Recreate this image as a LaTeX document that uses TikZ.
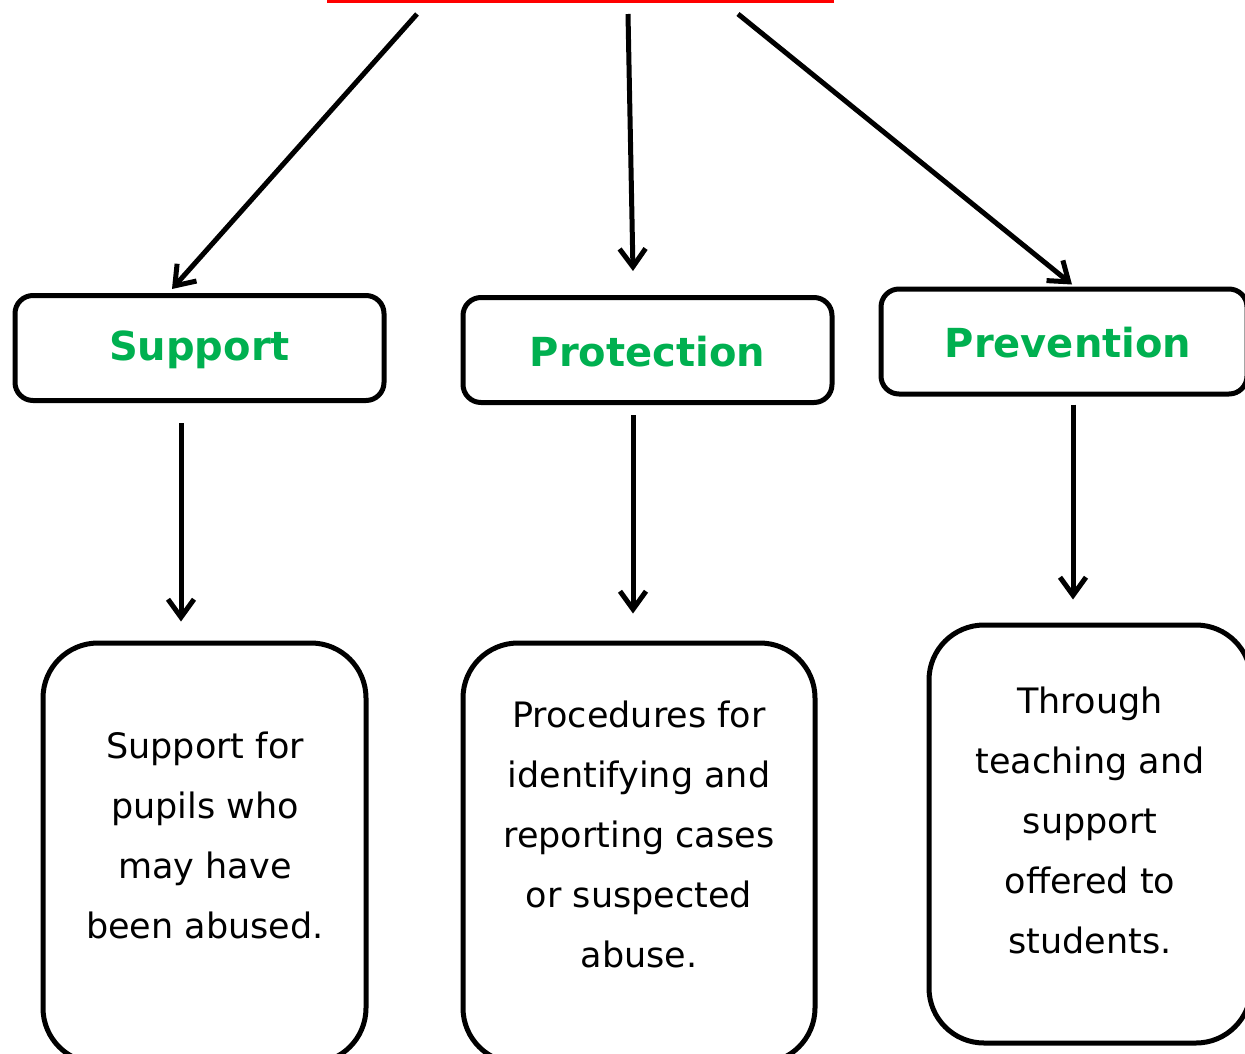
\documentclass[tikz,border=0pt]{standalone}
\usepackage{fontspec}
\setmainfont{DejaVu Sans}
\usetikzlibrary{arrows.meta,calc}
\definecolor{headgreen}{RGB}{0,176,80}
\begin{document}
\begin{tikzpicture}[x=1pt,y=-1pt,
  headbox/.style={draw=black,line width=5pt,rounded corners=18pt,minimum width=369pt,minimum height=105pt,inner sep=0pt},
  headtext/.style={text=headgreen,font=\fontsize{40}{48}\selectfont\bfseries},
  bodybox/.style={draw=black,line width=5pt,rounded corners=55pt,inner sep=0pt},
  bodytext/.style={align=center,font=\fontsize{35}{60}\selectfont,inner sep=0pt},
  arr/.style={draw=black,line width=5pt,-{Straight Barb[length=18pt,width=26pt,line width=5pt]}}
]
\useasboundingbox (0,0) rectangle (1245,1053);
\clip (0,0) rectangle (1245,1053);
\fill[white] (0,0) rectangle (1245,1053);
% title rule (title text is cut off above the picture)
\node[fill=red,minimum width=507pt,minimum height=4pt,inner sep=0pt] (title) at (580.5,1) {};
% heading boxes
\node[headbox] (suphead) at (199.5,348) {};
\node[headtext] (suptext) at (199.5,350) {Support};
\node[headbox] (prothead) at (647.5,350) {};
\node[headtext] (prottext) at (647.5,352) {Protection};
\node[headbox,minimum width=366pt] (prevhead) at (1064,341.5) {};
\node[headtext] (prevtext) at (1068,343) {Prevention};
% body boxes
\node[bodybox,minimum width=323pt,minimum height=420pt] (supbody) at (204.5,853) {};
\node[bodytext] (supbodytext) at (205,835) {Support for\\pupils who\\may have\\been abused.};
\node[bodybox,minimum width=352pt,minimum height=420pt] (protbody) at (639,853) {};
\node[bodytext] (protbodytext) at (639,834) {Procedures for\\identifying and\\reporting cases\\or suspected\\abuse.};
\node[bodybox,minimum width=322pt,minimum height=418pt] (prevbody) at (1090,834) {};
\node[bodytext] (prevbodytext) at (1090,820) {Through\\teaching and\\support\\offered to\\students.};
% connectors
\coordinate (s1) at (417,14);
\coordinate (s2) at (628,14);
\coordinate (s3) at (738,14);
\draw[arr] (s1) -- ($(suphead.north)+(-27.5,-4)$);
\draw[arr] (s2) -- ($(prothead.north)+(-14.5,-24)$);
\draw[arr] (s3) -- ($(prevhead.north)+(8,-2)$);
\draw[arr] ($(suphead.south)+(-18.5,20)$) -- ($(supbody.north)+(-23.5,-19)$);
\draw[arr] ($(prothead.south)+(-14.5,10)$) -- ($(protbody.north)+(-6,-27)$);
\draw[arr] ($(prevhead.south)+(9,8)$) -- ($(prevbody.north)+(-17,-23)$);
\end{tikzpicture}
\end{document}
